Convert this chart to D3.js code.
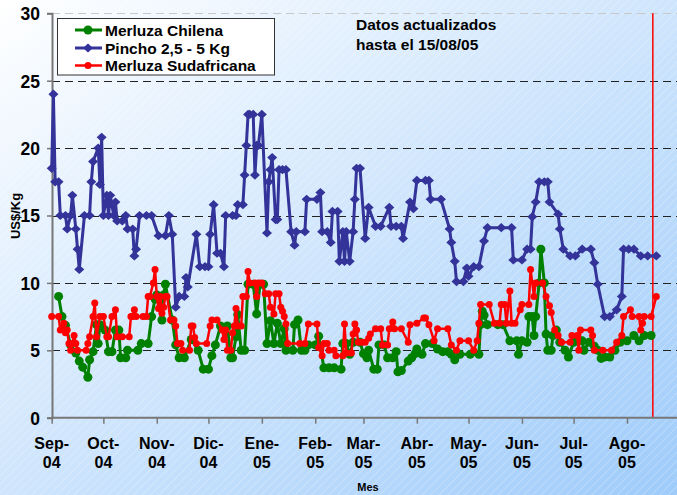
<!DOCTYPE html>
<html>
<head>
<meta charset="utf-8">
<script src="https://cdnjs.cloudflare.com/ajax/libs/d3/7.8.5/d3.min.js"></script>
<style>
  html, body { margin: 0; padding: 0; background: #fff; }
  svg text { font-family: Arial, "Liberation Sans", sans-serif; font-weight: bold; fill: #000; }
</style>
</head>
<body>
<div id="chart"></div>
<script>
// precios en US$/Kg, fecha y valor
var chilena = [
  ["2004-09-05",9.0],["2004-09-07",7.5],["2004-09-09",6.85],["2004-09-12",5.4],["2004-09-15",4.8],["2004-09-17",4.2],
  ["2004-09-19",3.75],["2004-09-22",3.0],["2004-09-23",4.3],["2004-09-25",4.9],["2004-09-27",6.9],["2004-09-28",5.5],
  ["2004-09-29",6.9],["2004-10-02",6.5],["2004-10-04",4.9],["2004-10-06",4.9],["2004-10-08",6.5],["2004-10-10",6.5],
  ["2004-10-11",4.45],["2004-10-14",4.45],["2004-10-15",5.0],["2004-10-21",5.0],["2004-10-23",5.5],["2004-10-27",5.5],
  ["2004-10-29",7.5],["2004-10-31",8.8],["2004-11-01",9.1],["2004-11-04",7.25],["2004-11-05",9.1],["2004-11-06",9.9],
  ["2004-11-10",7.25],["2004-11-12",5.4],["2004-11-14",4.45],["2004-11-17",4.45],["2004-11-21",5.8],["2004-11-25",5.0],
  ["2004-11-28",3.6],["2004-12-01",3.6],["2004-12-03",4.6],["2004-12-05",5.4],["2004-12-08",6.8],["2004-12-12",6.8],
  ["2004-12-14",4.45],["2004-12-15",4.45],["2004-12-17",6.0],["2004-12-18",7.65],["2004-12-20",5.0],["2004-12-22",5.0],
  ["2004-12-24",9.9],["2004-12-27",9.9],["2004-12-29",7.7],["2004-12-31",9.9],["2005-01-02",9.9],["2005-01-04",5.5],
  ["2005-01-06",7.2],["2005-01-08",5.5],["2005-01-10",7.0],["2005-01-12",5.5],["2005-01-14",6.6],["2005-01-15",5.0],
  ["2005-01-19",5.0],["2005-01-20",6.9],["2005-01-22",7.25],["2005-01-24",5.0],["2005-01-26",5.0],["2005-01-28",5.4],
  ["2005-02-01",5.4],["2005-02-03",6.05],["2005-02-06",3.7],["2005-02-09",3.7],["2005-02-12",3.7],["2005-02-16",3.6],
  ["2005-02-17",5.5],["2005-02-19",5.5],["2005-02-21",4.7],["2005-02-23",5.6],["2005-02-27",5.6],["2005-03-01",4.75],
  ["2005-03-03",4.45],["2005-03-04",5.0],["2005-03-07",3.6],["2005-03-09",3.6],["2005-03-10",5.4],["2005-03-13",5.4],
  ["2005-03-15",4.45],["2005-03-18",4.45],["2005-03-20",4.9],["2005-03-21",3.4],["2005-03-23",3.5],["2005-03-27",4.2],
  ["2005-03-29",4.45],["2005-03-31",4.75],["2005-04-01",5.1],["2005-04-04",4.7],["2005-04-06",5.5],["2005-04-10",5.5],
  ["2005-04-13",5.1],["2005-04-16",4.9],["2005-04-19",4.9],["2005-04-21",4.7],["2005-04-23",4.3],["2005-04-26",4.7],
  ["2005-05-02",4.7],["2005-05-07",4.7],["2005-05-08",6.9],["2005-05-09",7.9],["2005-05-10",7.6],["2005-05-12",6.9],
  ["2005-05-18",6.9],["2005-05-21",6.9],["2005-05-25",5.7],["2005-05-29",5.7],["2005-05-30",4.7],["2005-06-01",5.7],
  ["2005-06-04",5.6],["2005-06-05",7.5],["2005-06-07",7.5],["2005-06-08",6.1],["2005-06-09",7.5],["2005-06-11",10.0],
  ["2005-06-12",12.5],["2005-06-14",10.0],["2005-06-15",6.2],["2005-06-16",5.0],["2005-06-18",5.0],["2005-06-19",6.1],
  ["2005-06-21",6.5],["2005-06-23",5.6],["2005-06-26",5.0],["2005-06-28",4.5],["2005-07-01",5.6],["2005-07-03",5.7],
  ["2005-07-06",5.7],["2005-07-07",5.0],["2005-07-10",5.6],["2005-07-13",5.3],["2005-07-15",5.0],["2005-07-17",4.4],
  ["2005-07-19",4.5],["2005-07-22",4.5],["2005-07-25",5.0],["2005-07-28",5.6],["2005-08-01",5.7],["2005-08-05",6.1],
  ["2005-08-08",5.7],["2005-08-11",6.1],["2005-08-15",6.1]
];

var pincho = [
  ["2004-09-01",18.5],["2004-09-02",24.0],["2004-09-03",17.5],["2004-09-05",17.5],["2004-09-06",15.0],["2004-09-09",15.0],
  ["2004-09-10",14.0],["2004-09-12",15.0],["2004-09-13",16.5],["2004-09-15",14.0],["2004-09-16",12.5],["2004-09-17",11.0],
  ["2004-09-20",15.0],["2004-09-23",15.0],["2004-09-24",17.5],["2004-09-25",19.0],["2004-09-28",20.0],["2004-09-29",17.3],
  ["2004-09-30",20.8],["2004-10-01",15.0],["2004-10-03",16.5],["2004-10-04",15.0],["2004-10-05",16.5],["2004-10-07",15.0],
  ["2004-10-08",16.0],["2004-10-09",14.6],["2004-10-12",14.6],["2004-10-14",15.0],["2004-10-15",14.0],["2004-10-18",14.0],
  ["2004-10-19",12.0],["2004-10-20",12.5],["2004-10-22",15.0],["2004-10-26",15.0],["2004-10-29",15.0],["2004-11-02",13.5],
  ["2004-11-06",13.5],["2004-11-08",15.0],["2004-11-10",13.6],["2004-11-12",8.2],["2004-11-14",9.0],["2004-11-17",9.0],
  ["2004-11-18",10.4],["2004-11-19",9.7],["2004-11-24",13.6],["2004-11-26",11.2],["2004-11-29",11.2],["2004-12-01",11.2],
  ["2004-12-02",13.6],["2004-12-04",15.8],["2004-12-06",12.2],["2004-12-08",12.2],["2004-12-10",11.2],["2004-12-11",15.0],
  ["2004-12-15",15.0],["2004-12-17",15.0],["2004-12-18",15.8],["2004-12-21",15.8],["2004-12-22",18.0],["2004-12-23",20.2],
  ["2004-12-24",22.5],["2004-12-25",22.5],["2004-12-27",22.5],["2004-12-28",18.0],["2004-12-29",20.2],["2004-12-30",20.2],
  ["2005-01-01",22.5],["2005-01-04",13.7],["2005-01-05",17.5],["2005-01-06",18.4],["2005-01-07",19.3],["2005-01-09",14.7],
  ["2005-01-10",14.7],["2005-01-11",18.4],["2005-01-13",18.4],["2005-01-15",18.4],["2005-01-18",13.8],["2005-01-20",12.8],
  ["2005-01-21",13.8],["2005-01-26",13.8],["2005-01-27",16.2],["2005-02-02",16.2],["2005-02-04",16.7],["2005-02-05",13.8],
  ["2005-02-08",13.8],["2005-02-10",13.0],["2005-02-11",15.3],["2005-02-14",15.3],["2005-02-15",11.6],["2005-02-17",13.8],
  ["2005-02-18",11.6],["2005-02-19",13.8],["2005-02-21",11.6],["2005-02-23",13.8],["2005-02-24",16.2],["2005-02-25",18.5],
  ["2005-02-27",18.5],["2005-03-02",13.3],["2005-03-04",15.6],["2005-03-08",14.2],["2005-03-11",14.2],["2005-03-16",15.6],
  ["2005-03-17",14.2],["2005-03-20",14.2],["2005-03-23",14.2],["2005-03-24",13.3],["2005-03-28",16.0],["2005-03-30",15.5],
  ["2005-04-01",17.6],["2005-04-06",17.6],["2005-04-08",17.6],["2005-04-09",16.2],["2005-04-15",16.2],["2005-04-20",14.0],
  ["2005-04-21",13.0],["2005-04-23",11.6],["2005-04-24",10.1],["2005-04-28",10.1],["2005-04-30",11.1],["2005-05-01",10.5],
  ["2005-05-04",11.2],["2005-05-07",11.2],["2005-05-10",13.1],["2005-05-12",14.1],["2005-05-20",14.1],["2005-05-26",14.1],
  ["2005-05-27",11.7],["2005-06-01",11.7],["2005-06-04",12.5],["2005-06-06",12.5],["2005-06-07",14.9],["2005-06-09",16.0],
  ["2005-06-11",17.5],["2005-06-14",17.5],["2005-06-16",17.5],["2005-06-17",16.0],["2005-06-22",15.1],["2005-06-23",14.0],
  ["2005-06-25",12.5],["2005-06-29",12.0],["2005-07-02",12.0],["2005-07-06",12.5],["2005-07-11",12.5],["2005-07-13",11.5],
  ["2005-07-15",9.9],["2005-07-19",7.5],["2005-07-22",7.5],["2005-07-26",8.0],["2005-07-29",9.0],["2005-07-30",12.5],
  ["2005-08-02",12.5],["2005-08-05",12.5],["2005-08-09",12.0],["2005-08-13",12.0],["2005-08-18",12.0]
];

var sudafricana = [
  ["2004-09-01",7.5],["2004-09-05",7.5],["2004-09-06",6.5],["2004-09-08",7.0],["2004-09-09",6.3],["2004-09-10",6.5],
  ["2004-09-11",5.5],["2004-09-12",5.0],["2004-09-13",5.5],["2004-09-14",6.1],["2004-09-15",5.5],["2004-09-16",5.0],
  ["2004-09-21",5.0],["2004-09-22",5.5],["2004-09-23",6.0],["2004-09-25",7.5],["2004-09-26",8.5],["2004-09-27",6.0],
  ["2004-09-29",7.5],["2004-10-01",7.5],["2004-10-03",6.0],["2004-10-04",6.0],["2004-10-06",7.5],["2004-10-08",8.0],
  ["2004-10-09",6.0],["2004-10-12",6.0],["2004-10-16",6.0],["2004-10-17",7.5],["2004-10-18",7.5],["2004-10-19",8.0],
  ["2004-10-20",7.5],["2004-10-24",7.5],["2004-10-26",7.5],["2004-10-27",9.0],["2004-10-28",9.0],["2004-10-30",10.0],
  ["2004-10-31",11.0],["2004-11-01",9.0],["2004-11-02",8.1],["2004-11-03",9.0],["2004-11-04",7.75],["2004-11-05",8.2],
  ["2004-11-06",9.0],["2004-11-07",9.0],["2004-11-09",7.25],["2004-11-11",7.25],["2004-11-12",6.8],["2004-11-13",5.5],
  ["2004-11-15",5.5],["2004-11-16",5.0],["2004-11-20",5.0],["2004-11-21",6.8],["2004-11-22",6.8],["2004-11-23",5.95],
  ["2004-11-24",5.5],["2004-11-30",5.5],["2004-12-02",6.8],["2004-12-03",7.25],["2004-12-06",7.25],["2004-12-09",6.5],
  ["2004-12-10",5.8],["2004-12-11",6.5],["2004-12-12",5.0],["2004-12-14",5.0],["2004-12-15",6.3],["2004-12-16",6.8],
  ["2004-12-17",8.1],["2004-12-18",6.8],["2004-12-20",6.8],["2004-12-21",9.0],["2004-12-23",9.0],["2004-12-24",10.85],
  ["2004-12-25",10.0],["2004-12-28",10.0],["2004-12-29",9.0],["2004-12-30",10.0],["2005-01-01",10.0],["2005-01-03",9.2],
  ["2005-01-05",9.2],["2005-01-06",8.2],["2005-01-08",7.7],["2005-01-09",9.2],["2005-01-11",9.2],["2005-01-12",8.2],
  ["2005-01-13",7.9],["2005-01-14",7.5],["2005-01-15",6.95],["2005-01-16",5.5],["2005-01-23",5.5],["2005-01-26",5.5],
  ["2005-01-28",6.95],["2005-02-02",6.95],["2005-02-03",5.2],["2005-02-05",4.6],["2005-02-06",5.5],["2005-02-08",5.5],
  ["2005-02-09",5.0],["2005-02-12",5.0],["2005-02-13",4.6],["2005-02-17",4.6],["2005-02-18",6.95],["2005-02-19",4.8],
  ["2005-02-22",4.8],["2005-02-23",6.2],["2005-02-24",6.95],["2005-02-25",6.5],["2005-02-26",5.6],["2005-02-28",5.6],
  ["2005-03-02",5.6],["2005-03-04",5.9],["2005-03-05",6.2],["2005-03-08",6.6],["2005-03-11",6.6],["2005-03-12",5.4],
  ["2005-03-15",5.4],["2005-03-16",6.6],["2005-03-18",7.1],["2005-03-19",6.6],["2005-03-23",6.6],["2005-03-27",5.6],
  ["2005-03-28",6.9],["2005-04-01",7.0],["2005-04-05",7.4],["2005-04-06",7.4],["2005-04-08",6.9],["2005-04-11",5.7],
  ["2005-04-13",6.6],["2005-04-19",6.6],["2005-04-21",5.4],["2005-04-24",5.0],["2005-04-26",5.7],["2005-05-01",5.7],
  ["2005-05-04",5.0],["2005-05-06",5.7],["2005-05-07",7.0],["2005-05-08",8.4],["2005-05-13",8.4],["2005-05-16",7.0],
  ["2005-05-19",7.0],["2005-05-20",8.4],["2005-05-22",8.4],["2005-05-23",7.0],["2005-05-25",9.4],["2005-05-26",7.0],
  ["2005-05-28",7.0],["2005-05-31",8.0],["2005-06-01",8.4],["2005-06-05",8.4],["2005-06-06",11.0],["2005-06-08",9.0],
  ["2005-06-09",10.0],["2005-06-13",10.0],["2005-06-15",9.0],["2005-06-17",8.3],["2005-06-18",7.8],["2005-06-20",6.5],
  ["2005-06-22",6.1],["2005-06-24",5.6],["2005-06-29",5.6],["2005-06-30",6.1],["2005-07-03",6.1],["2005-07-04",5.0],
  ["2005-07-05",6.5],["2005-07-11",6.5],["2005-07-12",6.1],["2005-07-13",5.0],["2005-07-18",5.0],["2005-07-23",5.0],
  ["2005-07-26",5.6],["2005-07-29",6.1],["2005-07-30",7.5],["2005-08-03",8.0],["2005-08-04",7.5],["2005-08-08",7.5],
  ["2005-08-09",6.5],["2005-08-10",7.0],["2005-08-11",7.5],["2005-08-15",7.5],["2005-08-18",9.0]
];

var meses = ["Sep","Oct","Nov","Dic","Ene","Feb","Mar","Abr","May","Jun","Jul","Ago"];
var inicioMeses = ["2004-09-01","2004-10-01","2004-11-01","2004-12-01","2005-01-01","2005-02-01",
                   "2005-03-01","2005-04-01","2005-05-01","2005-06-01","2005-07-01","2005-08-01"];
var yTicks = [0, 5, 10, 15, 20, 25, 30];
var fechaCorte = "2005-08-16";

var width = 677, height = 495;
var margin = {top: 13, left: 52, bottom: 77};
var parse = d3.timeParse("%Y-%m-%d");

var svg = d3.select("#chart").append("svg")
    .attr("width", width)
    .attr("height", height);

var defs = svg.append("defs");

// fondo degradado
var grad = defs.append("linearGradient")
    .attr("id", "fondo")
    .attr("x1", 0).attr("y1", 0).attr("x2", 1).attr("y2", 1);
grad.append("stop").attr("offset", "0%").attr("stop-color", "#ffffff");
grad.append("stop").attr("offset", "100%").attr("stop-color", "#9ecbfa");

// rayado diagonal
var pat = defs.append("pattern")
    .attr("id", "rayas")
    .attr("width", 6).attr("height", 6)
    .attr("patternUnits", "userSpaceOnUse")
    .attr("patternTransform", "rotate(45)");
pat.append("line")
    .attr("x1", 0).attr("y1", 0).attr("x2", 0).attr("y2", 6)
    .attr("stroke", "#ffffff").attr("stroke-width", 1).attr("stroke-opacity", 0.45);

svg.append("rect").attr("width", width).attr("height", height).attr("fill", "url(#fondo)");
svg.append("rect").attr("width", width).attr("height", height).attr("fill", "url(#rayas)");

var x = d3.scaleTime()
    .domain([parse("2004-09-01"), parse("2005-08-01")])
    .range([51.7, 627]);

var y = d3.scaleLinear()
    .domain([0, 30])
    .range([height - margin.bottom - 0.3, margin.top + 0.3]);

// lineas de grilla
svg.append("g").selectAll("line")
    .data(yTicks.filter(function(d){ return d > 0; }))
    .enter().append("line")
    .attr("x1", margin.left).attr("x2", width)
    .attr("y1", function(d){ return Math.round(y(d)) + 0.5; })
    .attr("y2", function(d){ return Math.round(y(d)) + 0.5; })
    .attr("stroke", function(d){ return d == 30 ? "#c8c8c8" : "#222"; })
    .attr("stroke-width", 1)
    .attr("stroke-dasharray", "8,5");

// linea de corte
svg.append("line")
    .attr("x1", x(parse(fechaCorte))).attr("x2", x(parse(fechaCorte)))
    .attr("y1", y(30)).attr("y2", y(0))
    .attr("stroke", "#ff0000").attr("stroke-width", 1.5);

// eje y
var yAxis = svg.append("g")
    .attr("transform", "translate(" + margin.left + ",0)")
    .call(d3.axisLeft(y).tickValues(yTicks).tickSize(5).tickPadding(7));
yAxis.select(".domain").attr("stroke", "#777").attr("stroke-width", 2);
yAxis.selectAll(".tick line").attr("stroke", "#777").attr("stroke-width", 1.5);
yAxis.selectAll(".tick text").style("font-size", "17.5px").attr("dy", "0.36em");

// eje x
var xAxis = svg.append("g")
    .attr("transform", "translate(0," + y(0) + ")")
    .call(d3.axisBottom(x).tickValues(inicioMeses.map(parse)).tickSize(6).tickFormat(""));
xAxis.select(".domain").remove();
xAxis.selectAll(".tick line").attr("stroke", "#777").attr("stroke-width", 1.5);
svg.append("line")
    .attr("x1", margin.left - 1).attr("x2", width)
    .attr("y1", y(0)).attr("y2", y(0))
    .attr("stroke", "#777").attr("stroke-width", 2);

var xLabels = svg.append("g").selectAll("text")
    .data(inicioMeses)
    .enter().append("text")
    .attr("text-anchor", "middle")
    .style("font-size", "16px")
    .attr("transform", function(d){ return "translate(" + x(parse(d)) + ",0)"; });
xLabels.append("tspan")
    .attr("x", 0).attr("y", 449)
    .text(function(d, i){ return meses[i] + "-"; });
xLabels.append("tspan")
    .attr("x", 0).attr("y", 468)
    .text(function(d){ return d.slice(2, 4); });

// titulos de ejes
svg.append("text")
    .attr("transform", "translate(20,216) rotate(-90)")
    .attr("text-anchor", "middle")
    .style("font-size", "13px")
    .text("US$/Kg");

svg.append("text")
    .attr("x", 368).attr("y", 491)
    .attr("text-anchor", "middle")
    .style("font-size", "11px")
    .text("Mes");

// series
var diamante = "M0,-4.6L5,0L0,4.6L-5,0Z";

var series = [
    {nombre: "Merluza Chilena", datos: chilena, color: "#008000", ancho: 3, forma: "circulo", r: 4.5},
    {nombre: "Pincho 2,5 - 5 Kg", datos: pincho, color: "#333399", ancho: 3, forma: "diamante", r: 0},
    {nombre: "Merluza Sudafricana", datos: sudafricana, color: "#ff0000", ancho: 2.5, forma: "circulo", r: 3.5}
];

var linea = d3.line()
    .x(function(d){ return x(parse(d[0])); })
    .y(function(d){ return y(d[1]); });

// azul primero, luego verde y rojo encima
[1, 0, 2].forEach(function(i){
    var s = series[i];
    var g = svg.append("g");
    g.append("path")
        .datum(s.datos)
        .attr("fill", "none")
        .attr("stroke", s.color)
        .attr("stroke-width", s.ancho)
        .attr("stroke-linejoin", "round")
        .attr("d", linea);
    if (s.forma == "circulo") {
        g.selectAll("circle")
            .data(s.datos)
            .enter().append("circle")
            .attr("cx", function(d){ return x(parse(d[0])); })
            .attr("cy", function(d){ return y(d[1]); })
            .attr("r", s.r)
            .attr("fill", s.color);
    } else {
        g.selectAll("path.punto")
            .data(s.datos)
            .enter().append("path")
            .attr("class", "punto")
            .attr("d", diamante)
            .attr("transform", function(d){ return "translate(" + x(parse(d[0])) + "," + y(d[1]) + ")"; })
            .attr("fill", s.color);
    }
});

// leyenda
var leyenda = svg.append("g");
leyenda.append("rect")
    .attr("x", 57.5).attr("y", 18.5)
    .attr("width", 217).attr("height", 56.5)
    .attr("fill", "#ffffff")
    .attr("stroke", "#333").attr("stroke-width", 1);

var filas = leyenda.selectAll("g.fila")
    .data(series)
    .enter().append("g")
    .attr("class", "fila")
    .attr("transform", function(d, i){ return "translate(0," + [30, 48, 65.5][i] + ")"; });
filas.append("line")
    .attr("x1", 75).attr("x2", 102)
    .attr("stroke", function(d){ return d.color; })
    .attr("stroke-width", function(d){ return d.ancho; });
filas.append("path")
    .attr("d", function(d){
        return d.forma == "circulo" ? d3.symbol(d3.symbolCircle, Math.PI * d.r * d.r)() : diamante;
    })
    .attr("transform", "translate(88,0)")
    .attr("fill", function(d){ return d.color; });
filas.append("text")
    .attr("x", 105).attr("y", 5.5)
    .style("font-size", "15.5px")
    .text(function(d){ return d.nombre; });

// nota
var nota = svg.append("text").style("font-size", "15.5px");
nota.append("tspan").attr("x", 356).attr("y", 30).text("Datos actualizados");
nota.append("tspan").attr("x", 356).attr("y", 49.5).text("hasta el 15/08/05");
</script>
</body>
</html>
